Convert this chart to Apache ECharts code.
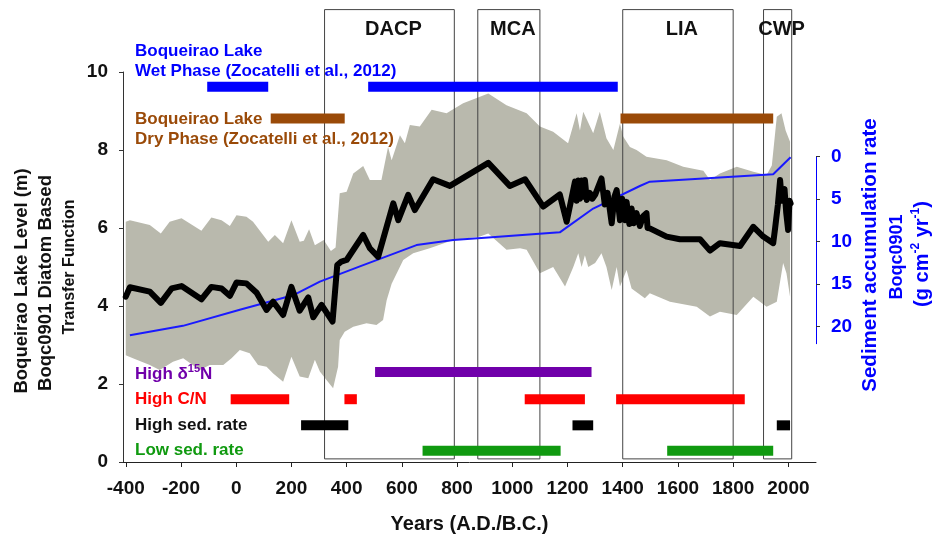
<!DOCTYPE html>
<html>
<head>
<meta charset="utf-8">
<title>Boqueirao Lake level</title>
<script src="https://cdn.jsdelivr.net/npm/echarts@6/dist/echarts.min.js"></script>
<style>
  html, body { margin: 0; padding: 0; background: #fff; }
  #chart { width: 933px; height: 536px; }
</style>
</head>
<body>
<div id="chart"></div>
<script>
// tick labels
const yearTicks = [-400, -200, 0, 200, 400, 600, 800, 1000, 1200, 1400, 1600, 1800, 2000];
const levelTicks = [0, 2, 4, 6, 8, 10];
const sedTicks = [0, 5, 10, 15, 20];

// lake level (m), diatom transfer function
const lakeLevel = [
  [-400, 4.24], [-385, 4.48], [-313, 4.37], [-273, 4.08], [-234, 4.45], [-198, 4.51],
  [-126, 4.17], [-90, 4.49], [-53, 4.45], [-23, 4.26], [1, 4.6], [37, 4.58], [74, 4.34],
  [110, 3.9], [134, 4.11], [170, 3.77], [200, 4.49], [230, 3.88], [261, 4.22], [279, 3.71],
  [309, 4.03], [349, 3.6], [366, 5.05], [381, 5.14], [400, 5.18], [460, 5.82], [484, 5.48],
  [514, 5.26], [569, 6.63], [587, 6.2], [623, 6.85], [647, 6.46], [713, 7.25], [774, 7.08],
  [913, 7.67], [991, 7.08], [1046, 7.25], [1112, 6.55], [1172, 6.86], [1197, 6.16],
  [1227, 7.19], [1233, 6.7], [1239, 7.22], [1245, 6.75], [1251, 7.22], [1257, 6.8],
  [1263, 7.23], [1270, 6.72], [1281, 6.9], [1290, 6.75], [1300, 6.85], [1323, 7.27],
  [1335, 6.6], [1345, 6.9], [1360, 6.12], [1370, 6.8], [1378, 6.97], [1390, 6.2],
  [1398, 6.75], [1408, 6.2], [1414, 6.67], [1424, 6.1], [1432, 6.5], [1440, 6.12],
  [1450, 6.38], [1462, 6.05], [1474, 6.3], [1486, 6.38], [1490, 6.0], [1498, 5.99],
  [1559, 5.78], [1607, 5.71], [1680, 5.71], [1716, 5.42], [1752, 5.61], [1825, 5.54],
  [1873, 6.03], [1909, 5.78], [1945, 5.61], [1952, 6.0], [1962, 6.6], [1970, 7.23],
  [1976, 6.7], [1981, 6.9], [1986, 7.0], [1992, 6.4], [1999, 5.95], [2004, 6.7], [2008, 6.63]
];

// uncertainty envelope
const bandUpper = [
  [-400, 6.16], [-385, 6.2], [-313, 6.08], [-273, 5.86], [-241, 6.16], [-198, 6.25],
  [-126, 5.93], [-90, 6.27], [-53, 6.2], [-23, 6.05], [1, 6.33], [37, 6.29], [61, 6.16],
  [116, 5.65], [140, 5.82], [170, 5.61], [200, 6.2], [230, 5.65], [245, 5.67], [264, 5.97],
  [285, 5.56], [317, 5.69], [343, 5.41], [360, 5.5], [375, 6.89], [400, 6.93], [424, 7.4],
  [460, 7.59], [484, 7.23], [526, 7.23], [550, 8.08], [563, 7.74], [593, 8.38], [611, 8.17],
  [629, 8.64], [665, 8.6], [708, 9.03], [762, 8.94], [822, 9.2], [913, 9.45], [979, 9.15],
  [1052, 8.94], [1100, 8.6], [1148, 8.47], [1202, 8.17], [1233, 8.94], [1245, 8.5],
  [1257, 8.98], [1293, 8.43], [1317, 8.98], [1341, 8.3], [1366, 8.0], [1390, 8.68],
  [1402, 8.34], [1426, 8.08], [1450, 8.0], [1486, 7.83], [1559, 7.74], [1619, 7.57],
  [1692, 7.47], [1716, 7.23], [1752, 7.4], [1813, 7.57], [1873, 7.44], [1921, 7.36],
  [1940, 7.6], [1958, 8.85], [1975, 8.94], [1990, 8.5], [2006, 8.21]
];
const bandLower = [
  [-400, 2.74], [-374, 2.66], [-313, 2.49], [-277, 2.36], [-229, 2.57], [-192, 2.66],
  [-132, 2.36], [-96, 2.49], [-47, 2.49], [-17, 2.66], [13, 2.87], [49, 2.79], [79, 2.49],
  [110, 2.44], [134, 2.27], [170, 2.06], [200, 2.7], [230, 2.19], [261, 2.15], [285, 2.62],
  [303, 2.32], [327, 2.1], [351, 1.89], [369, 2.44], [375, 3.13], [393, 3.34], [424, 3.47],
  [472, 3.56], [508, 3.51], [532, 3.64], [545, 4.15], [563, 4.57], [605, 5.18], [641, 5.35],
  [701, 5.48], [786, 5.69], [883, 5.78], [913, 5.86], [979, 5.44], [1028, 5.48], [1052, 5.44],
  [1100, 4.84], [1148, 5.0], [1191, 4.5], [1221, 5.0], [1239, 5.35], [1251, 5.0], [1263, 5.3],
  [1275, 5.0], [1300, 5.1], [1323, 5.35], [1341, 5.0], [1360, 4.41], [1378, 5.0], [1390, 4.5],
  [1414, 4.92], [1432, 4.45], [1480, 4.2], [1498, 4.33], [1571, 4.11], [1668, 3.98],
  [1716, 3.73], [1752, 3.85], [1813, 3.77], [1873, 4.24], [1921, 3.98], [1958, 4.11],
  [1981, 5.1], [1993, 4.84], [2006, 4.24]
];

// sediment accumulation rate (g cm-2 yr-1), right axis
const sedRate = [
  [-385, 21.0], [-193, 19.9], [13, 18.0], [182, 16.5], [218, 16.1], [303, 14.7], [448, 12.9],
  [653, 10.4], [786, 9.8], [913, 9.5], [1172, 8.9], [1293, 6.1], [1462, 3.45], [1498, 2.94],
  [1945, 2.07], [2008, 0.07]
];

// climate periods
const periodNames = ['DACP', 'MCA', 'LIA', 'CWP'];
const periodStart = [320, 875, 1400, 1910];
const periodEnd = [790, 1100, 1800, 2012];

// proxy intervals [from, to]
const wetPhase = [[-105, 116], [478, 1382]];
const dryPhase = [[125, 393], [1392, 1945]];
const highD15N = [[503, 1287]];
const highCN = [[-20, 192], [392, 437], [1045, 1263], [1376, 1842]];
const highSed = [[235, 406], [1218, 1293], [1958, 2006]];
const lowSed = [[675, 1175], [1561, 1945]];

const FONT = '"Liberation Sans", Arial, sans-serif';
const BLUE = '#0000ff';
const BROWN = '#9a4a08';
const PURPLE = '#7000aa';

const chart = echarts.init(document.getElementById('chart'));

// horizontal bars of one row
function barRow(name, segments, level, color) {
  return {
    name: name,
    type: 'custom',
    xAxisIndex: 0,
    yAxisIndex: 0,
    z: 6,
    clip: false,
    data: segments.map(s => [s[0], s[1], level]),
    encode: { x: [0, 1], y: 2 },
    renderItem: function (params, api) {
      const a = api.coord([api.value(0), api.value(2)]);
      const b = api.coord([api.value(1), api.value(2)]);
      return {
        type: 'rect',
        shape: { x: a[0], y: a[1] - 5, width: b[0] - a[0], height: 10 },
        style: { fill: color }
      };
    }
  };
}

const supRich = (size, color) => ({
  n: { fontSize: size, fontWeight: 'bold', fontFamily: FONT, fill: color, lineHeight: size + 4 },
  s: { fontSize: Math.round(size * 0.62), fontWeight: 'bold', fontFamily: FONT, fill: color, verticalAlign: 'top', lineHeight: Math.round(size * 0.62) }
});

function label(text, x, y, color, size, rich) {
  const el = {
    type: 'text',
    x: x,
    y: y,
    z: 10,
    style: {
      text: text,
      fill: color,
      font: 'bold ' + size + 'px ' + FONT,
      textAlign: 'left',
      textVerticalAlign: 'middle'
    }
  };
  if (rich) el.style.rich = rich;
  return el;
}

function vLabel(text, x, y, color, size, rich) {
  const el = label(text, x, y, color, size, rich);
  el.rotation = Math.PI / 2;
  el.style.textAlign = 'center';
  return el;
}

const plainNumber = v => String(v);

const option = {
  animation: false,
  backgroundColor: '#fff',
  grid: [
    { left: 123, right: 117, top: 72, bottom: 74, containLabel: false, outerBoundsMode: 'none' },
    { left: 123, right: 117, top: 156.7, height: 187, containLabel: false, outerBoundsMode: 'none' }
  ],
  xAxis: [
    {
      gridIndex: 0,
      type: 'value',
      min: -410,
      max: 2100,
      splitLine: { show: false },
      axisLine: { show: true, onZero: false, lineStyle: { color: '#222', width: 1 } },
      axisTick: { show: true, length: 5, customValues: yearTicks, lineStyle: { color: '#222' } },
      axisLabel: {
        customValues: yearTicks, formatter: plainNumber, margin: 17, color: '#111',
        fontSize: 19, fontWeight: 'bold', fontFamily: FONT
      },
      name: 'Years (A.D./B.C.)',
      nameLocation: 'middle',
      nameGap: 52,
      nameTextStyle: { color: '#111', fontSize: 20, fontWeight: 'bold', fontFamily: FONT }
    },
    { gridIndex: 1, type: 'value', min: -410, max: 2100, show: false }
  ],
  yAxis: [
    {
      gridIndex: 0,
      type: 'value',
      min: 0,
      max: 10,
      interval: 2,
      position: 'left',
      splitLine: { show: false },
      axisLine: { show: true, onZero: false, lineStyle: { color: '#333', width: 1 } },
      axisTick: { show: true, length: 4, customValues: levelTicks, lineStyle: { color: '#333' } },
      axisLabel: {
        customValues: levelTicks, formatter: plainNumber, margin: 15, color: '#111',
        fontSize: 19, fontWeight: 'bold', fontFamily: FONT
      }
    },
    {
      gridIndex: 1,
      type: 'value',
      min: 0,
      max: 22,
      inverse: true,
      position: 'right',
      splitLine: { show: false },
      axisLine: { show: true, onZero: false, lineStyle: { color: BLUE, width: 1 } },
      axisTick: { show: true, length: 4, customValues: sedTicks, lineStyle: { color: '#333' } },
      axisLabel: {
        customValues: sedTicks, formatter: plainNumber, margin: 15, color: BLUE,
        fontSize: 19, fontWeight: 'bold', fontFamily: FONT
      }
    }
  ],
  graphic: [
    // left axis title
    vLabel('Boqueirao Lake Level (m)', 22, 281, '#111', 18.5),
    vLabel('Boqc0901 Diatom Based', 45.5, 283, '#111', 18.5),
    vLabel('Transfer Function', 70, 267, '#111', 16),
    // right axis title
    vLabel('Sediment accumulation rate', 870, 255, BLUE, 20.5),
    vLabel('Boqc0901', 897, 257, BLUE, 18),
    vLabel('{n|(g cm}{s|-2}{n| yr}{s|-1}{n|)}', 922, 254, BLUE, 20, supRich(20, BLUE)),
    // phase labels
    label('Boqueirao Lake', 135, 51, BLUE, 17),
    label('Wet Phase (Zocatelli et al., 2012)', 135, 71, BLUE, 17),
    label('Boqueirao Lake', 135, 119, BROWN, 17),
    label('Dry Phase (Zocatelli et al., 2012)', 135, 139, BROWN, 17),
    label('{n|High δ}{s|15}{n|N}', 135, 374, PURPLE, 17, supRich(17, PURPLE)),
    label('High C/N', 135, 399.5, '#ff0000', 17),
    label('High sed. rate', 135, 425, '#111', 17),
    label('Low sed. rate', 135, 450.5, '#109a10', 17)
  ],
  series: [
    {
      name: 'envelope',
      type: 'custom',
      xAxisIndex: 0,
      yAxisIndex: 0,
      z: 1,
      silent: true,
      data: [[0, 5]],
      renderItem: function (params, api) {
        const top = bandUpper.map(p => api.coord(p));
        const bottom = bandLower.slice().reverse().map(p => api.coord(p));
        return {
          type: 'polygon',
          shape: { points: top.concat(bottom) },
          style: { fill: '#b9b9ad' }
        };
      }
    },
    {
      name: 'periods',
      type: 'custom',
      xAxisIndex: 0,
      yAxisIndex: 0,
      z: 2,
      clip: false,
      silent: true,
      data: periodNames.map((n, i) => [periodStart[i], periodEnd[i], 5]),
      encode: { x: [0, 1], y: 2 },
      renderItem: function (params, api) {
        const x0 = api.value(0), x1 = api.value(1);
        const tl = api.coord([x0, 11.6]);
        const br = api.coord([x1, 0.08]);
        const lab = api.coord([(x0 + x1) / 2, 11.08]);
        return {
          type: 'group',
          children: [
            {
              type: 'rect',
              shape: { x: tl[0], y: tl[1], width: br[0] - tl[0], height: br[1] - tl[1] },
              style: { fill: 'none', stroke: '#444', lineWidth: 1 }
            },
            {
              type: 'text',
              x: lab[0] + 4,
              y: lab[1],
              style: {
                text: periodNames[params.dataIndex],
                fill: '#111',
                font: 'bold 20px ' + FONT,
                textAlign: 'center',
                textVerticalAlign: 'middle'
              }
            }
          ]
        };
      }
    },
    {
      name: 'Sediment accumulation rate',
      type: 'line',
      xAxisIndex: 1,
      yAxisIndex: 1,
      z: 4,
      data: sedRate,
      showSymbol: false,
      symbol: 'none',
      lineStyle: { color: '#1a1aff', width: 2 }
    },
    {
      name: 'Lake level',
      type: 'line',
      xAxisIndex: 0,
      yAxisIndex: 0,
      z: 5,
      data: lakeLevel,
      showSymbol: false,
      symbol: 'none',
      lineStyle: { color: '#000', width: 6, join: 'round', cap: 'round' }
    },
    barRow('Wet phase', wetPhase, 9.62, BLUE),
    barRow('Dry phase', dryPhase, 8.81, BROWN),
    barRow('High d15N', highD15N, 2.31, PURPLE),
    barRow('High C/N', highCN, 1.61, '#ff0000'),
    barRow('High sed. rate', highSed, 0.94, '#000'),
    barRow('Low sed. rate', lowSed, 0.29, '#109a10')
  ]
};

chart.setOption(option);
</script>
</body>
</html>
